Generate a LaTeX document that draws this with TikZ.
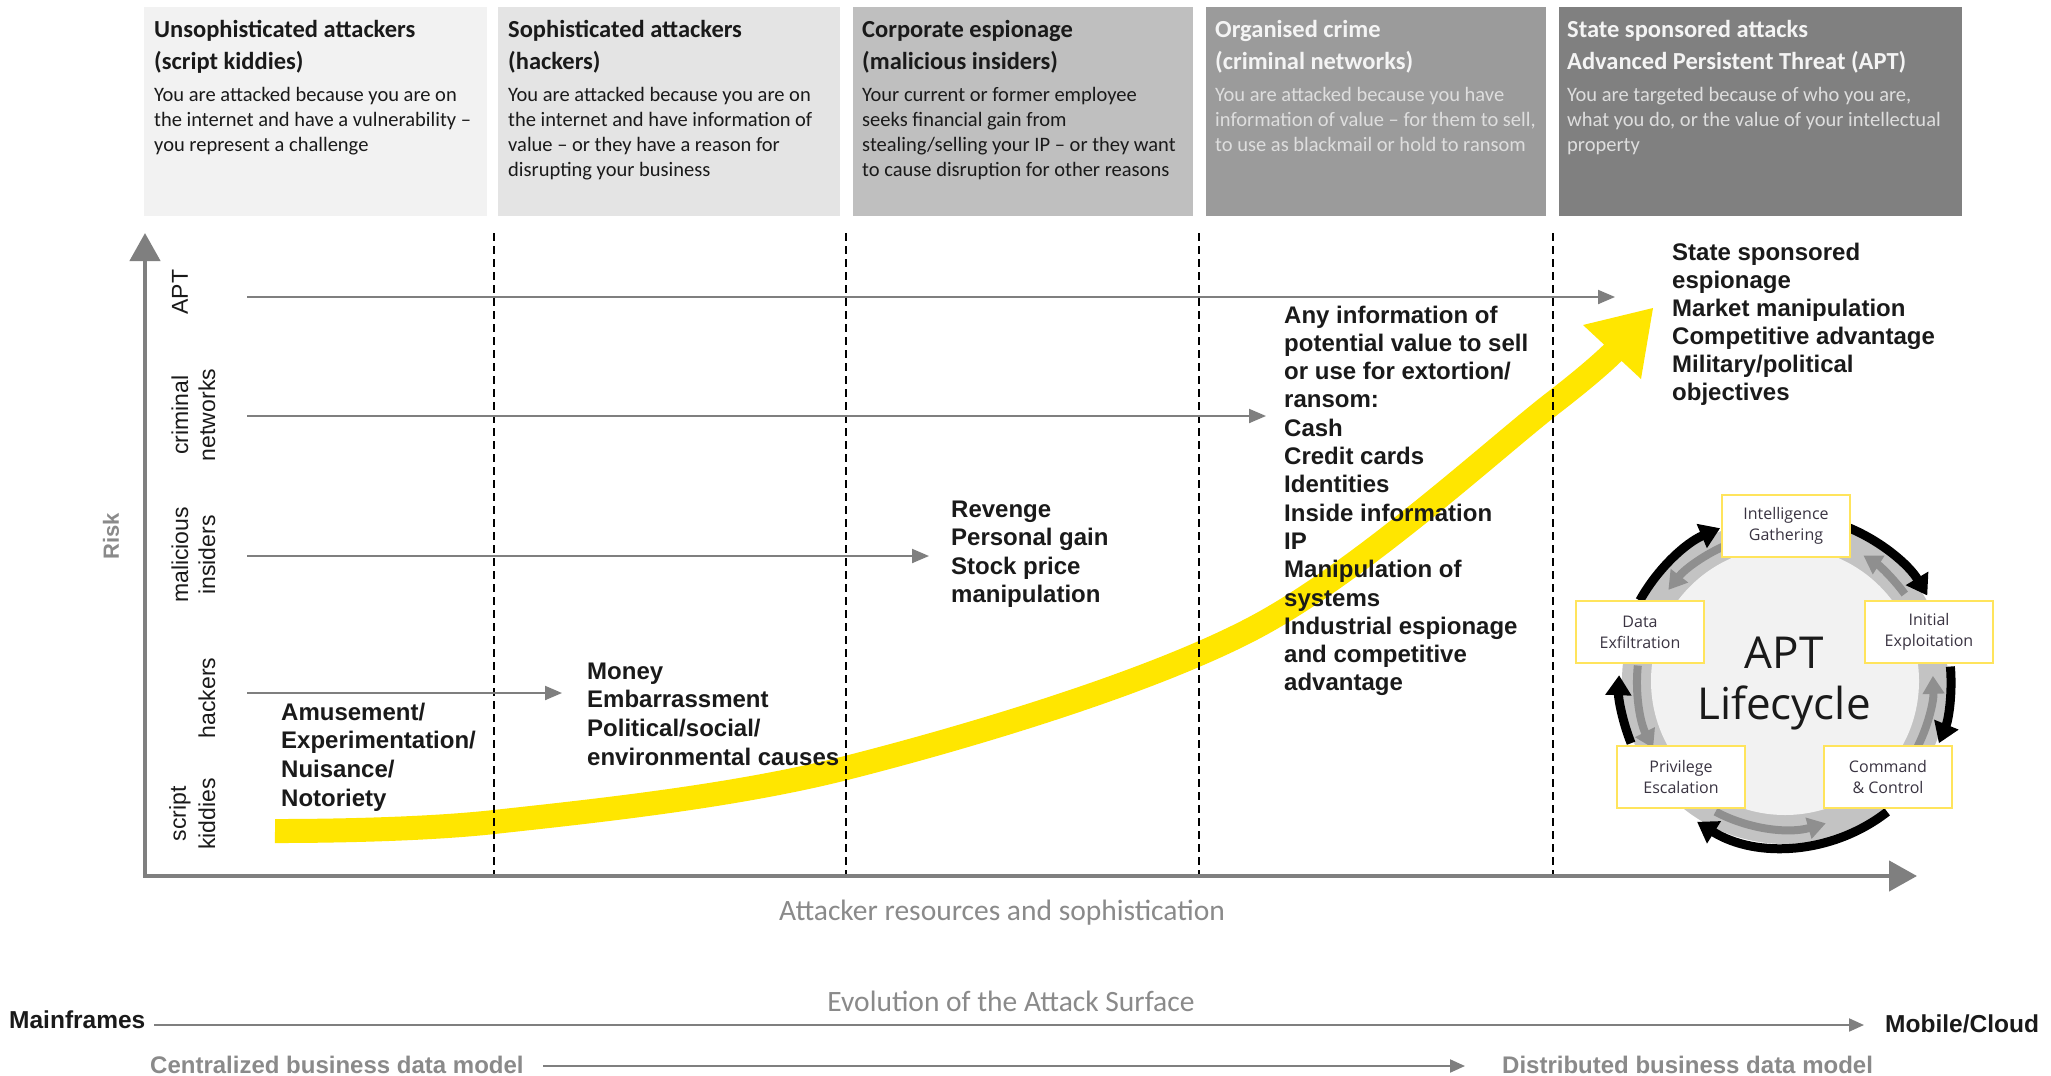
\documentclass[tikz,border=0pt]{standalone}
\usepackage{fontspec}
\setmainfont{Liberation Sans}
\newfontfamily\calfont{Carlito}
\newfontfamily\osfont{Open Sans}
\usetikzlibrary{arrows.meta}
\definecolor{eyyellow}{HTML}{FFE600}
\definecolor{axgrey}{HTML}{7F7F7F}
\definecolor{boxA}{HTML}{F2F2F2}
\definecolor{boxB}{HTML}{E4E4E4}
\definecolor{boxC}{HTML}{BFBFBF}
\definecolor{boxD}{HTML}{9B9B9B}
\definecolor{boxE}{HTML}{808080}
\definecolor{txtdark}{HTML}{1A1A1A}
\definecolor{txtlight}{HTML}{F4F4F4}
\definecolor{txtlight2}{HTML}{DEDEDE}
\definecolor{labgrey}{HTML}{8A8A8A}
\definecolor{band}{HTML}{C3C3C3}
\definecolor{innerc}{HTML}{F2F2F2}
\definecolor{garrow}{HTML}{8F8F8F}
\definecolor{lcbord}{HTML}{FFE45C}
\definecolor{lctext}{HTML}{3A3442}
\newcommand\txtlines[6]{%
  \foreach \ln [count=\i from 0] in {#6}{%
    \node[#5, anchor=base west] (#1\i) at (#2, #3+\i*#4) {\ln};}}
\begin{document}
\begin{tikzpicture}[x=1pt,y=-1pt,
  topbox/.style={draw=none, minimum height=209pt, inner sep=0pt, anchor=north west},
  ttl/.style={font=\calfont\bfseries\fontsize{24.5}{28}\selectfont, inner sep=0pt},
  bdy/.style={font=\calfont\fontsize{20.5}{24}\selectfont, inner sep=0pt},
  reason/.style={font=\bfseries\fontsize{24}{28}\selectfont, text=txtdark, inner sep=0pt},
  rotlab/.style={rotate=90, font=\fontsize{23}{26}\selectfont, text=txtdark, inner sep=0pt},
  axisline/.style={draw=axgrey, line width=4.5pt, line join=miter,
     {Triangle[length=28pt,width=30pt]}-{Triangle[length=28pt,width=30pt]}},
  catarrow/.style={draw=axgrey, line width=2pt, -{Triangle[length=17pt,width=14pt]}},
  botarrow/.style={draw=axgrey, line width=2pt, -{Triangle[length=15pt,width=13pt]}},
  divline/.style={draw=black, line width=1.6pt, dash pattern=on 8pt off 5pt},
  blk/.style={draw=black, line width=9pt, -{Triangle[length=20pt,width=25pt]}},
  gry/.style={draw=garrow, line width=8pt, -{Triangle[length=18pt,width=21pt]}},
  lcbox/.style={draw=lcbord, line width=2.5pt, fill=white, minimum width=128pt,
     minimum height=62pt, align=center, font=\osfont\fontsize{16}{21}\selectfont,
     text=lctext, inner sep=0pt},
  bottxt/.style={font=\bfseries\fontsize{24.5}{26}\selectfont, inner sep=0pt, anchor=base west},
  bottxtg/.style={font=\bfseries\fontsize{24}{26}\selectfont, inner sep=0pt, anchor=base west, text=labgrey},
  axtitle/.style={font=\calfont\fontsize{29.5}{31}\selectfont, text=labgrey}
]
\useasboundingbox (0,0) rectangle (2051,1076);
\fill[white] (0,0) rectangle (2051,1076);

% top boxes
\node[topbox, fill=boxA, minimum width=343pt] (box1) at (144,7) {};
\node[topbox, fill=boxB, minimum width=342pt] (box2) at (498,7) {};
\node[topbox, fill=boxC, minimum width=340pt] (box3) at (853,7) {};
\node[topbox, fill=boxD, minimum width=340pt] (box4) at (1206,7) {};
\node[topbox, fill=boxE, minimum width=403pt] (box5) at (1559,7) {};

\txtlines{tA}{154}{37}{32}{ttl, text=txtdark}{Unsophisticated attackers,(script kiddies)}
\txtlines{bA}{154}{101}{25}{bdy, text=txtdark}{You are attacked because you are on,the internet and have a vulnerability –,you represent a challenge}
\txtlines{tB}{508}{37}{32}{ttl, text=txtdark}{Sophisticated attackers,(hackers)}
\txtlines{bB}{508}{101}{25}{bdy, text=txtdark}{You are attacked because you are on,the internet and have information of,value – or they have a reason for,disrupting your business}
\txtlines{tC}{862}{37}{32}{ttl, text=txtdark}{Corporate espionage,(malicious insiders)}
\txtlines{bC}{862}{101}{25}{bdy, text=txtdark}{Your current or former employee,seeks financial gain from,stealing/selling your IP – or they want,to cause disruption for other reasons}
\txtlines{tD}{1215}{37}{32}{ttl, text=txtlight}{Organised crime,(criminal networks)}
\txtlines{bD}{1215}{101}{25}{bdy, text=txtlight2}{You are attacked because you have,{information of value – for them to sell,},to use as blackmail or hold to ransom}
\txtlines{tE}{1567}{37}{32}{ttl, text=txtlight}{State sponsored attacks,Advanced Persistent Threat (APT)}
\txtlines{bE}{1567}{101}{25}{bdy, text=txtlight2}{{You are targeted because of who you are,},{what you do, or the value of your intellectual},property}

% yellow risk curve
\draw[eyyellow, line width=24pt]
  plot[smooth, tension=0.55] coordinates {(275,831) (494,822) (846,768) (1250,630) (1553,403) (1622,343)};
\fill[eyyellow] (1653,308) -- (1641,379) -- (1583,325) -- cycle;

% dashed dividers
\foreach \xx in {494,846,1199,1553}{\draw[divline] (\xx,233) -- (\xx,876);}

% axes
\coordinate (org) at (145,876);
\coordinate (ytip) at (145,233);
\coordinate (xtip) at (1917,876);
\draw[axisline] (ytip) -- (org) -- (xtip);

% category arrows
\coordinate (aptS) at (247,297);  \coordinate (aptE) at (1615,297);
\coordinate (crS) at (247,416);   \coordinate (crE) at (1266,416);
\coordinate (miS) at (247,556);   \coordinate (miE) at (929,556);
\coordinate (haS) at (247,693);   \coordinate (haE) at (562,693);
\draw[catarrow] (aptS) -- (aptE);
\draw[catarrow] (crS) -- (crE);
\draw[catarrow] (miS) -- (miE);
\draw[catarrow] (haS) -- (haE);

% rotated labels
\node[rotlab] (lApt) at (180,292) {APT};
\node[rotlab] (lCrim1) at (180,415) {criminal};
\node[rotlab] (lCrim2) at (207,415) {networks};
\node[rotlab] (lMal1) at (180,555) {malicious};
\node[rotlab] (lMal2) at (207,555) {insiders};
\node[rotlab] (lHack) at (207,698) {hackers};
\node[rotlab] (lSk1) at (180,814) {script};
\node[rotlab] (lSk2) at (207,814) {kiddies};
\node[rotate=90, font=\bfseries\fontsize{22}{24}\selectfont, text=labgrey] (risk) at (111,536) {Risk};

% motivation texts
\txtlines{rA}{281}{720}{28.8}{reason}{Amusement/,Experimentation/,Nuisance/,Notoriety}
\txtlines{rB}{587}{679}{28.8}{reason}{Money,Embarrassment,Political/social/,environmental causes}
\txtlines{rC}{951}{517}{28.6}{reason}{Revenge,Personal gain,Stock price,manipulation}
\txtlines{rD}{1284}{323}{28.3}{reason}{Any information of,potential value to sell,or use for extortion/,ransom:,Cash,Credit cards,Identities,Inside information,IP,Manipulation of,systems,Industrial espionage,and competitive,advantage}
\txtlines{rE}{1672}{260}{28}{reason}{State sponsored,espionage,Market manipulation,Competitive advantage,Military/political,objectives}

% axis titles
\node[axtitle] (xlab) at (1002,913) {Attacker resources and sophistication};
\node[axtitle] (evo) at (1011,1001) {Evolution of the Attack Surface};

% bottom evolution lines
\node[bottxt, text=txtdark] (mf) at (9,1028) {Mainframes};
\node[bottxt, text=txtdark] (mc) at (1885,1032) {Mobile/Cloud};
\node[bottxtg] (cbd) at (150,1073) {Centralized business data model};
\node[bottxtg] (dbd) at (1502,1073) {Distributed business data model};
\coordinate (mfS) at (154,1025); \coordinate (mfE) at (1864,1025);
\coordinate (cbS) at (543,1066); \coordinate (cbE) at (1465,1066);
\draw[botarrow] (mfS) -- (mfE);
\draw[botarrow] (cbS) -- (cbE);

% APT lifecycle
\begin{scope}[shift={(1785,681)}, yscale=-1]
  \fill[band] (0,0) circle[radius=163pt];
  \fill[innerc] (0,0) circle[radius=134pt];
  \draw[blk] (68:166) arc[start angle=68, end angle=31, radius=166];
  \draw[blk] (5:166) arc[start angle=5, end angle=-22, radius=166];
  \draw[blk] (-52:166) arc[start angle=-52, end angle=-122, radius=166];
  \draw[blk] (-158:166) arc[start angle=-158, end angle=-182, radius=166];
  \draw[blk] (151:166) arc[start angle=151, end angle=113, radius=166];
  \draw[gry] (112:148) arc[start angle=112, end angle=142, radius=148];
  \draw[gry] (174:148) arc[start angle=174, end angle=207, radius=148];
  \draw[gry] (242:148) arc[start angle=242, end angle=286, radius=148];
  \draw[gry] (332:148) arc[start angle=332, end angle=362, radius=148];
  \draw[gry] (36:148) arc[start angle=36, end angle=58, radius=148];
\end{scope}
\node[font=\osfont\fontsize{44}{46}\selectfont, text=txtdark] (aptT) at (1784,653) {APT};
\node[font=\osfont\fontsize{44}{46}\selectfont, text=txtdark] (lcT) at (1784,708) {Lifecycle};
\node[lcbox] (ig) at (1786,526) {Intelligence\\Gathering};
\node[lcbox] (ie) at (1929,632) {Initial\\Exploitation};
\node[lcbox] (cc) at (1888,777) {Command\\\& Control};
\node[lcbox] (pe) at (1681,777) {Privilege\\Escalation};
\node[lcbox] (de) at (1640,632) {Data\\Exfiltration};
\end{tikzpicture}
\end{document}
